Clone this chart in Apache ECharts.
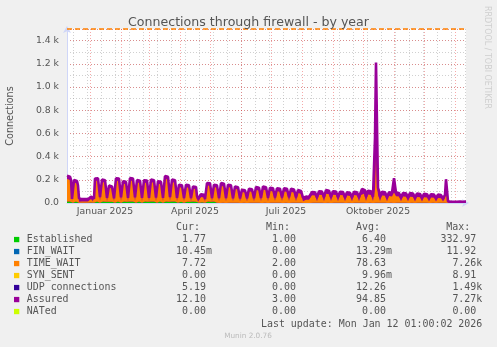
<!DOCTYPE html>
<html>
<head>
<meta charset="utf-8">
<script src="https://cdn.jsdelivr.net/npm/echarts@6/dist/echarts.min.js"></script>
<style>
html,body{margin:0;padding:0;background:#f0f0f0;}
#c{width:497px;height:347px;}
</style>
</head>
<body>
<div id="c"></div>
<script>
// ---- data (daily averages, first day = Mon 2024-12-09) ----
const startDate = '2024-12-09';

const assured = [
235,232,230,226,200,35,30,
198,195,192,190,150,40,32,
35,33,30,32,34,30,28,
33,35,36,55,62,40,38,
210,218,216,212,205,50,40,
202,198,200,196,190,45,38,
150,148,145,142,140,40,35,
212,218,215,210,205,48,40,
188,185,184,182,178,45,38,
215,218,212,210,200,48,40,
198,195,196,192,188,45,38,
196,195,192,194,186,45,38,
202,200,198,196,190,46,38,
188,186,184,182,178,44,36,
232,230,228,226,215,50,40,
202,200,198,196,190,45,38,
158,156,155,152,148,42,36,
158,155,154,152,148,42,36,
142,140,140,138,60,35,32,
40,75,72,74,70,34,30,
172,170,168,170,165,42,36,
158,156,155,152,150,42,36,
172,170,168,166,160,42,36,
158,155,154,152,148,40,35,
142,140,138,136,132,40,35,
115,114,112,110,105,42,36,
122,120,118,118,114,42,36,
138,135,134,132,128,44,38,
142,140,138,136,132,46,40,
132,130,128,126,122,48,42,
128,126,124,122,118,48,42,
126,125,124,122,118,50,44,
122,120,118,116,112,48,42,
112,110,108,104,96,46,40,
56,55,54,55,52,44,40,
95,96,94,92,88,50,46,
102,100,100,98,94,52,46,
112,110,108,106,102,54,48,
102,100,100,98,94,52,46,
97,95,96,94,90,50,45,
92,90,90,88,86,50,45,
97,95,94,92,90,52,46,
100,120,122,118,110,55,48,
106,105,104,102,98,55,48,
560,1210,1210,130,105,55,48,
96,95,94,92,90,52,46,
92,90,90,88,86,215,210,
90,90,88,86,84,48,44,
86,85,84,84,80,48,44,
86,84,84,82,80,46,42,
82,80,80,78,76,45,42,
80,80,78,76,74,44,40,
76,75,74,72,70,42,38,
72,70,70,68,66,40,36,
70,205,200,14,12,12,11,
11,12,11,12,11,11,11,
12,12,11,12,11,11,11,
12
];

const established = [
12,12,13,12,11,3,3,
12,11,12,11,9,3,3,
3,3,3,3,3,3,3,
3,3,3,5,6,3,3,
12,13,12,12,11,3,3,
12,12,12,12,11,3,3,
11,11,11,11,10,3,3,
12,12,13,12,11,3,3,
12,12,12,12,11,3,3,
12,13,12,12,11,3,3,
12,12,12,12,11,3,3,
12,12,12,12,11,3,3,
12,12,12,12,11,3,3,
12,12,12,11,11,3,3,
13,13,12,12,11,3,3,
12,12,12,12,11,3,3,
11,11,11,11,10,3,3,
11,11,11,11,10,3,3,
12,12,12,11,4,3,3,
3,6,6,6,6,3,3,
12,12,12,12,11,3,3,
12,12,11,3,2,1,1,
2,2,2,2,2,1,1,
2,2,2,2,2,1,1,
2,2,2,2,2,1,1,
2,2,2,2,2,1,1,
2,2,2,2,2,1,1,
2,2,2,2,2,1,1,
2,2,2,2,2,1,1,
2,2,2,2,2,1,1,
2,2,2,2,2,1,1,
2,2,2,2,2,1,1,
2,2,2,2,2,1,1,
2,2,2,2,2,1,1,
1,1,1,1,1,1,1,
2,2,2,2,2,1,1,
2,2,2,2,2,1,1,
2,2,2,2,2,1,1,
2,2,2,2,2,1,1,
2,2,2,2,2,1,1,
2,2,2,2,2,1,1,
2,2,2,2,2,1,1,
2,2,2,2,2,1,1,
2,2,2,2,2,1,1,
2,3,2,2,2,1,1,
2,2,2,2,2,1,1,
2,2,2,2,2,1,1,
2,2,2,2,2,1,1,
2,2,2,2,2,1,1,
2,2,2,2,2,1,1,
2,2,2,2,2,1,1,
2,2,2,2,2,1,1,
2,2,2,2,2,1,1,
2,2,2,2,2,1,1,
2,2,2,1,1,1,1,
1,1,1,1,1,1,1,
1,1,1,1,1,1,1,
1
];

const timeWait = [
195,192,190,186,165,8,6,
165,162,160,158,120,8,6,
12,10,9,10,11,8,7,
10,12,12,30,36,10,9,
180,186,184,180,175,12,9,
170,166,168,165,160,10,8,
120,118,116,114,112,9,8,
180,186,184,178,175,12,9,
155,152,152,150,146,10,8,
182,185,180,178,170,12,9,
165,162,163,160,156,10,8,
162,162,160,160,154,10,8,
168,166,165,162,158,10,8,
155,153,152,150,146,10,8,
195,194,192,190,180,12,9,
168,166,165,162,158,10,8,
125,124,122,120,116,9,8,
124,122,122,120,116,9,8,
112,110,110,108,35,8,7,
15,45,44,45,42,8,7,
138,136,135,136,132,10,8,
125,124,122,128,126,11,9,
144,143,142,140,136,12,10,
135,132,132,130,126,12,10,
120,118,116,115,112,12,10,
92,92,90,88,84,12,10,
98,97,95,95,92,12,10,
110,108,108,106,102,14,12,
114,112,110,108,105,15,12,
104,102,100,98,96,16,13,
100,98,97,95,92,16,13,
98,97,96,95,92,16,13,
94,92,90,88,86,15,12,
84,82,80,78,70,14,12,
28,28,27,28,26,12,10,
65,66,64,62,60,15,13,
70,68,68,66,64,15,13,
78,76,75,73,70,16,14,
70,68,68,66,64,15,13,
66,65,65,64,60,14,12,
62,60,60,58,56,14,12,
66,64,64,62,60,15,13,
66,80,82,78,72,16,13,
72,70,70,68,65,16,13,
120,400,150,70,66,16,13,
62,62,60,60,58,15,13,
58,56,56,55,54,90,85,
56,56,55,54,52,14,12,
54,53,52,52,50,14,12,
52,52,51,50,48,13,11,
50,49,49,48,46,13,11,
48,48,47,46,45,12,10,
45,45,44,43,42,12,10,
42,41,41,40,38,11,9,
40,90,85,3,3,3,2,
3,3,2,3,2,2,2,
3,3,2,3,2,2,2,
3
];

// x tick labels
const tickLabels = ['Januar 2025', 'April 2025', 'Juli 2025', 'Oktober 2025'];
const tickDates  = ['2025-01-16', '2025-04-16', '2025-07-16', '2025-10-16'];

// legend table
const legendNames  = ['Established','FIN_WAIT','TIME_WAIT','SYN_SENT','UDP connections','Assured','NATed'];
const legendColors = ['#00cc00','#0066b3','#ff8000','#ffcc00','#330099','#990099','#ccff00'];
const curVals = ['1.77','10.45m','7.72','0.00','5.19','12.10','0.00'];
const minVals = ['1.00','0.00','2.00','0.00','0.00','3.00','0.00'];
const avgVals = ['6.40','13.29m','78.63','9.96m','12.26','94.85','0.00'];
const maxVals = ['332.97','11.92','7.26k','8.91','1.49k','7.27k','0.00'];
const warnLevel = 1500;

// ---- build categories ----
const dates = [];
{
  const d0 = new Date(startDate + 'T00:00:00Z');
  for (let i = 0; i < assured.length; i++) {
    const d = new Date(d0.getTime() + i * 86400000);
    dates.push(d.toISOString().slice(0, 10));
  }
}

const FONT = 'DejaVu Sans';
const MONO = 'DejaVu Sans Mono';
const TXT = '#555';
const gridRed = 'rgba(230,40,40,0.4)';
const gridGray = 'rgba(150,150,150,0.45)';

// legend graphics
const g = [];
const monoSize = 9.95;
const cw = monoSize * 0.602;
const rowY0 = 239.5, rowStep = 12;
const colRight = [212, 302, 392, 482.3];
const headers = ['Cur:', 'Min:', 'Avg:', 'Max:'];
headers.forEach((h, i) => {
  g.push({type:'text', x: colRight[i] - 6 * cw, y: 227.5,
    style:{text:h, fontFamily:MONO, fontSize:monoSize, fill:TXT, textAlign:'left', textVerticalAlign:'middle'}});
});
const cols = [curVals, minVals, avgVals, maxVals];
legendNames.forEach((n, r) => {
  const y = rowY0 + r * rowStep;
  g.push({type:'rect', shape:{x:14, y:y - 2.6, width:5.3, height:5.3}, style:{fill:legendColors[r]}});
  g.push({type:'text', x:26.7, y:y, style:{text:n, fontFamily:MONO, fontSize:monoSize, fill:TXT, textVerticalAlign:'middle'}});
  cols.forEach((col, ci) => {
    const v = col[r];
    const suffix = /[a-zA-Z]$/.test(v);
    g.push({type:'text', x: colRight[ci] - (suffix ? 0 : cw), y:y,
      style:{text:v, fontFamily:MONO, fontSize:monoSize, fill:TXT, textAlign:'right', textVerticalAlign:'middle'}});
  });
});
g.push({type:'text', x:482.3, y:324, style:{text:'Last update: Mon Jan 12 01:00:02 2026', fontFamily:MONO, fontSize:monoSize, fill:TXT, textAlign:'right', textVerticalAlign:'middle'}});
g.push({type:'text', x:248, y:336, style:{text:'Munin 2.0.76', fontFamily:FONT, fontSize:7.3, fill:'#bbb', textAlign:'center', textVerticalAlign:'middle'}});
g.push({type:'text', x:487, y:57.5, rotation:-Math.PI/2, style:{text:'RRDTOOL / TOBI OETIKER', fontFamily:FONT, fontSize:8, fill:'#cfcfcf', textAlign:'center', textVerticalAlign:'middle'}});

const chart = echarts.init(document.getElementById('c'), null, {renderer:'canvas'});
chart.setOption({
  backgroundColor:'#f0f0f0',
  animation:false,
  title:{text:'Connections through firewall - by year', left:'center', top:11,
    textStyle:{fontSize:12.6, fontWeight:'normal', color:TXT, fontFamily:FONT}},
  grid:{left:67, top:29, width:399, height:174, show:true, backgroundColor:'#ffffff', borderWidth:0, outerBoundsMode:'none'},
  xAxis:[
    {type:'category', data:dates, boundaryGap:false, position:'bottom', offset:0,
     axisLine:{show:false}, axisTick:{show:false}, axisLabel:{show:false},
     splitLine:{show:true, interval:(i)=> i % 14 === 6, lineStyle:{color:gridGray, type:[1,2], width:1}}},
    {type:'category', data:dates, boundaryGap:false, z:1, position:'bottom', offset:0,
     axisLine:{show:true, onZero:false, lineStyle:{color:'#CFD6F8', width:1}, symbol:['none','arrow'], symbolSize:[6,7], symbolOffset:[0,3]},
     axisTick:{show:false},
     axisLabel:{interval:(i, v)=> tickDates.indexOf(v) >= 0,
       formatter:(v)=> { const k = tickDates.indexOf(v); return k >= 0 ? tickLabels[k] : ''; },
       color:TXT, fontSize:9.3, fontFamily:FONT, margin:4},
     splitLine:{show:true, interval:(i, v)=> v.slice(8) === '01', lineStyle:{color:gridRed, type:[1,2], width:1}}}
  ],
  yAxis:[
    {type:'value', min:0, max:1500, interval:100, position:'left', offset:0,
     axisLine:{show:false}, axisTick:{show:false}, axisLabel:{show:false},
     splitLine:{show:true, lineStyle:{color:gridGray, type:[1,2], width:1}}},
    {type:'value', min:0, max:1500, interval:200, z:1, position:'left', offset:0,
     axisLine:{show:true, onZero:false, lineStyle:{color:'#CFD6F8', width:1}, symbol:['none','arrow'], symbolSize:[6,7], symbolOffset:[0,3]},
     axisTick:{show:false},
     axisLabel:{formatter:(v)=> v === 0 ? '0.0' : (v > 1400 ? '' : (v/1000).toFixed(1) + ' k'),
       color:TXT, fontSize:9.3, fontFamily:FONT, margin:8},
     splitLine:{show:true, lineStyle:{color:gridRed, type:[1,2], width:1}},
     name:'Connections', nameLocation:'middle', nameGap:52,
     nameTextStyle:{color:TXT, fontSize:9.6, fontFamily:FONT}}
  ],
  series:[
    {name:'Assured', type:'line', xAxisIndex:1, yAxisIndex:1, data:assured,
     symbol:'none', showSymbol:false,
     lineStyle:{color:'#990099', width:2.6}, itemStyle:{color:'#990099'},
     areaStyle:{color:'#990099', opacity:1},
     markLine:{silent:true, symbol:['none','none'], label:{show:false},
       lineStyle:{color:'#ff8000', type:[5,3], width:1.6},
       data:[{yAxis:warnLevel}]}},
    {name:'Established', type:'line', xAxisIndex:1, yAxisIndex:1, data:established, stack:'conn',
     symbol:'none', showSymbol:false, lineStyle:{width:0}, itemStyle:{color:'#00cc00'},
     areaStyle:{color:'#00cc00', opacity:1}},
    {name:'TIME_WAIT', type:'line', xAxisIndex:1, yAxisIndex:1, data:timeWait, stack:'conn',
     symbol:'none', showSymbol:false, lineStyle:{width:0}, itemStyle:{color:'#ff8000'},
     areaStyle:{color:'#ff8000', opacity:1}}
  ],
  graphic:g
});
</script>
</body>
</html>
